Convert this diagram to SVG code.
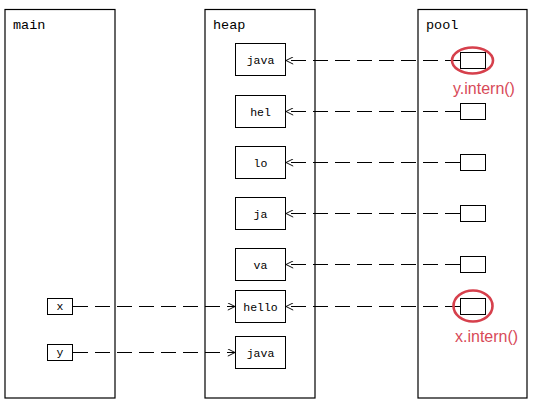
<svg xmlns="http://www.w3.org/2000/svg" width="556" height="408" viewBox="0 0 556 408">
<defs>
<style>
.frame{fill:#fff;stroke:#000;stroke-width:1.2}
.box{fill:#fff;stroke:#000;stroke-width:1}
.t{font-family:"Liberation Mono","DejaVu Sans Mono",monospace;font-size:11.5px;fill:#000;text-anchor:middle}
.title{font-family:"Liberation Mono","DejaVu Sans Mono",monospace;font-size:13.5px;fill:#000}
.conn{fill:none;stroke:#000;stroke-width:1;stroke-dasharray:15,7}
.hl{fill:none;stroke:#d6404c;stroke-width:2.6}
.red{font-family:"Liberation Sans","Noto Sans",sans-serif;font-size:16px;fill:#d84a58}
</style>
<marker id="arr" viewBox="0 0 10 10" refX="10" refY="5" markerWidth="8" markerHeight="8" markerUnits="userSpaceOnUse" orient="auto">
<path d="M1,0.5 L10,5 L1,9.5" fill="none" stroke="#000" stroke-width="1.2"/>
</marker>
</defs>
<rect width="556" height="408" fill="#fff"/>
<g id="main">
<rect class="frame" x="5" y="9.5" width="110" height="388.5"/>
<text class="title" x="13" y="29">main</text>
</g>
<g id="heap">
<rect class="frame" x="205" y="9.5" width="110" height="388.5"/>
<text class="title" x="213" y="29">heap</text>
</g>
<g id="pool">
<rect class="frame" x="418" y="9.5" width="109" height="388.5"/>
<text class="title" x="426" y="29">pool</text>
</g>
<g id="heap-java"><rect class="box" x="235.5" y="43.5" width="50" height="32"/><text class="t" x="260.5" y="63.5">java</text></g>
<g id="heap-hel"><rect class="box" x="235.5" y="95.5" width="50" height="32"/><text class="t" x="260.5" y="115.5">hel</text></g>
<g id="heap-lo"><rect class="box" x="235.5" y="146.5" width="50" height="32"/><text class="t" x="260.5" y="166.5">lo</text></g>
<g id="heap-ja"><rect class="box" x="235.5" y="197.5" width="50" height="32"/><text class="t" x="260.5" y="217.5">ja</text></g>
<g id="heap-va"><rect class="box" x="235.5" y="248.5" width="50" height="32"/><text class="t" x="260.5" y="268.5">va</text></g>
<g id="heap-hello"><rect class="box" x="235.5" y="290.5" width="50" height="32"/><text class="t" x="260.5" y="310.5">hello</text></g>
<g id="heap-java2"><rect class="box" x="235.5" y="336.5" width="50" height="32"/><text class="t" x="260.5" y="356.5">java</text></g>
<g id="var-x"><rect class="box" x="47.5" y="298.5" width="25" height="16"/><text class="t" x="60" y="310">x</text></g>
<g id="var-y"><rect class="box" x="47.5" y="344.5" width="25" height="16"/><text class="t" x="60" y="356">y</text></g>
<g id="pool-1"><rect class="box" x="460.5" y="52.5" width="25" height="16"/></g>
<g id="pool-2"><rect class="box" x="460.5" y="103.5" width="25" height="16"/></g>
<g id="pool-3"><rect class="box" x="460.5" y="154.5" width="25" height="16"/></g>
<g id="pool-4"><rect class="box" x="460.5" y="205.5" width="25" height="16"/></g>
<g id="pool-5"><rect class="box" x="460.5" y="256.5" width="25" height="16"/></g>
<g id="pool-6"><rect class="box" x="460.5" y="298.5" width="25" height="16"/></g>
<g id="connectors">
<line class="conn" x1="460" y1="60.5" x2="286" y2="60.5" marker-end="url(#arr)"/>
<line class="conn" x1="460" y1="111.5" x2="286" y2="111.5" marker-end="url(#arr)"/>
<line class="conn" x1="460" y1="162.5" x2="286" y2="162.5" marker-end="url(#arr)"/>
<line class="conn" x1="460" y1="213.5" x2="286" y2="213.5" marker-end="url(#arr)"/>
<line class="conn" x1="460" y1="264.5" x2="286" y2="264.5" marker-end="url(#arr)"/>
<line class="conn" x1="460" y1="306.5" x2="286" y2="306.5" marker-end="url(#arr)"/>
<line class="conn" x1="73" y1="306.5" x2="235" y2="306.5" marker-end="url(#arr)"/>
<line class="conn" x1="73" y1="352.5" x2="235" y2="352.5" marker-end="url(#arr)"/>
</g>
<g id="annot-y">
<ellipse class="hl" cx="472.5" cy="60.5" rx="20.5" ry="13"/>
<text class="red" x="453" y="94">y.intern()</text>
</g>
<g id="annot-x">
<ellipse class="hl" cx="473" cy="306" rx="19.5" ry="15.5"/>
<text class="red" x="455" y="342">x.intern()</text>
</g>
</svg>
